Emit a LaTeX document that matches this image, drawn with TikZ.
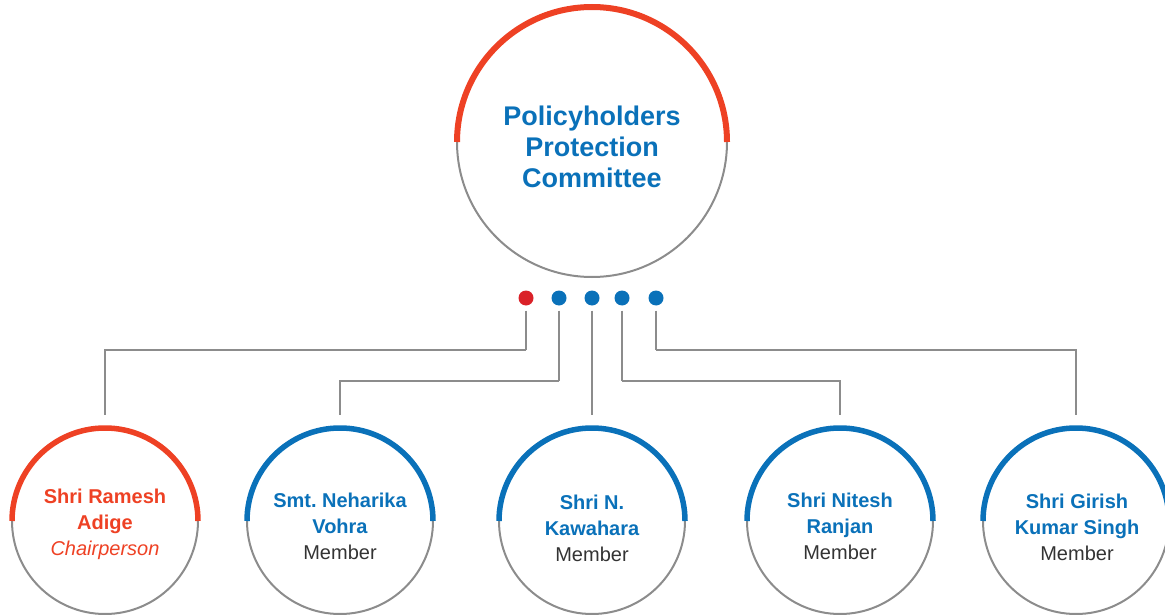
\documentclass[tikz,border=0pt]{standalone}
\usepackage{fontspec}
\setmainfont{Liberation Sans}
\frenchspacing
\definecolor{pred}{HTML}{EE4124}
\definecolor{pblue}{HTML}{0A71B9}
\definecolor{dotred}{HTML}{DA2128}
\definecolor{lgray}{HTML}{8C8C8C}
\definecolor{tgray}{HTML}{333333}
\begin{document}
\begin{tikzpicture}[x=1pt,y=-1pt,
  ring/.style={circle,draw=lgray,line width=2pt,minimum size=#1,inner sep=0pt,outer sep=0pt},
  dotnode/.style={circle,fill=#1,minimum size=15pt,inner sep=0pt},
  conn/.style={draw=lgray,line width=2.7pt,shorten <=5pt,shorten >=13pt},
  toparc/.style={line width=6pt,draw=#1},
  member/.style={ring=186pt},
  mtext/.style={align=center,inner sep=0pt,font=\fontsize{20}{26}\selectfont\frenchspacing}]
\useasboundingbox (0,0) rectangle (1165,615);
% top circle
\node[ring=270pt] (top) at (592,142) {};
\node[align=center,inner sep=0pt,font=\fontsize{27}{31}\selectfont\bfseries,text=pblue] (toptext) at (592,147)
  {Policyholders\\Protection\\Committee};
\draw[toparc=pred] (top.west) arc[start angle=180,end angle=0,radius=135pt];
% dots
\node[dotnode=dotred] (d1) at (526,298) {};
\node[dotnode=pblue] (d2) at (559,298) {};
\node[dotnode=pblue] (d3) at (592,298) {};
\node[dotnode=pblue] (d4) at (622,298) {};
\node[dotnode=pblue] (d5) at (656,298) {};
% member circles
\node[member] (c1) at (105,521) {};
\node[member] (c2) at (340,521) {};
\node[member] (c3) at (592,521) {};
\node[member] (c4) at (840,521) {};
\node[member] (c5) at (1076,521) {};
\node[mtext] (t1) at (105,524)
  {{\bfseries\color{pred}Shri Ramesh}\\{\bfseries\color{pred}Adige}\\{\itshape\color{pred}Chairperson}};
\node[mtext] (t2) at (340,526)
  {{\bfseries\color{pblue}Smt. Neharika}\\{\bfseries\color{pblue}Vohra}\\{\color{tgray}Member}};
\node[mtext] (t3) at (592,528)
  {{\bfseries\color{pblue}Shri N.}\\{\bfseries\color{pblue}Kawahara}\\{\color{tgray}Member}};
\node[mtext] (t4) at (840,526)
  {{\bfseries\color{pblue}Shri Nitesh}\\{\bfseries\color{pblue}Ranjan}\\{\color{tgray}Member}};
\node[mtext] (t5) at (1077,527)
  {{\bfseries\color{pblue}Shri Girish}\\{\bfseries\color{pblue}Kumar Singh}\\{\color{tgray}Member}};
\draw[line width=5.5pt,draw=pred] (c1.west) arc[start angle=180,end angle=0,radius=93pt];
\foreach \c in {c2,c3,c4,c5}{
  \draw[line width=5.5pt,draw=pblue] (\c.west) arc[start angle=180,end angle=0,radius=93pt];
}
% junction coordinates
\coordinate (j1) at (526,350);
\coordinate (j2) at (559,381);
\coordinate (j4) at (622,381);
\coordinate (j5) at (656,350);
% connectors
\draw[conn,shorten >=0pt] (d1) -- (j1);
\draw[conn,shorten <=0pt] (j1) -| (c1);
\draw[conn,shorten >=0pt] (d2) -- (j2);
\draw[conn,shorten <=0pt] (j2) -| (c2);
\draw[conn] (d3) -- (c3);
\draw[conn,shorten >=0pt] (d4) -- (j4);
\draw[conn,shorten <=0pt] (j4) -| (c4);
\draw[conn,shorten >=0pt] (d5) -- (j5);
\draw[conn,shorten <=0pt] (j5) -| (c5);
\end{tikzpicture}
\end{document}
